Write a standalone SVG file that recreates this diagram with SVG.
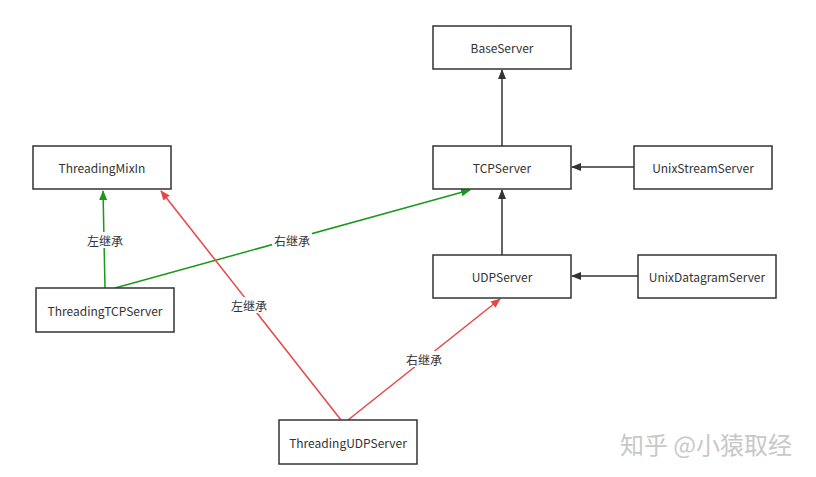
<svg xmlns="http://www.w3.org/2000/svg" width="816" height="477" viewBox="0 0 816 477">
<style>
.box{fill:#fff;stroke:#333;stroke-width:1.5}
.t{font-family:"Noto Sans CJK SC","Liberation Sans",sans-serif;font-size:12px;fill:#333;text-anchor:middle;dominant-baseline:central}
.lbl{font-family:"Noto Sans CJK SC","Liberation Sans",sans-serif;font-size:12px;fill:#333;text-anchor:middle;dominant-baseline:central}
.k{stroke:#333;stroke-width:1.5;fill:none}
.g{stroke:#1a9a1a;stroke-width:1.5;fill:none}
.r{stroke:#e84545;stroke-width:1.5;fill:none}
</style>
<defs>
<marker id="ak" viewBox="0 0 10 10" refX="9" refY="5" markerWidth="10" markerHeight="10" markerUnits="userSpaceOnUse" orient="auto"><path d="M0,1 L10,5 L0,9 Z" fill="#333"/></marker>
<marker id="ag" viewBox="0 0 10 10" refX="9" refY="5" markerWidth="10" markerHeight="10" markerUnits="userSpaceOnUse" orient="auto"><path d="M0,1 L10,5 L0,9 Z" fill="#1a9a1a"/></marker>
<marker id="ar" viewBox="0 0 10 10" refX="9" refY="5" markerWidth="10" markerHeight="10" markerUnits="userSpaceOnUse" orient="auto"><path d="M0,1 L10,5 L0,9 Z" fill="#e84545"/></marker>
</defs>
<rect width="816" height="477" fill="#fff"/>
<g id="connectors">
<line class="k" x1="502" y1="146" x2="502" y2="70" marker-end="url(#ak)"/>
<line class="k" x1="502" y1="255" x2="502" y2="190" marker-end="url(#ak)"/>
<line class="k" x1="634" y1="167" x2="572" y2="167" marker-end="url(#ak)"/>
<line class="k" x1="638" y1="276" x2="572" y2="276" marker-end="url(#ak)"/>
<line class="g" x1="105" y1="288" x2="103" y2="191" marker-end="url(#ag)"/>
<line class="g" x1="115" y1="288" x2="470" y2="190" marker-end="url(#ag)"/>
<line class="r" x1="341" y1="420" x2="161" y2="191" marker-end="url(#ar)"/>
<line class="r" x1="348" y1="420" x2="500" y2="299" marker-end="url(#ar)"/>
<rect x="85" y="232" width="40" height="16" fill="#fff"/>
<text class="lbl" x="105" y="240">左继承</text>
<rect x="272" y="232" width="40" height="16" fill="#fff"/>
<text class="lbl" x="292" y="240">右继承</text>
<rect x="229" y="297" width="40" height="16" fill="#fff"/>
<text class="lbl" x="249" y="305">左继承</text>
<rect x="404" y="351" width="40" height="16" fill="#fff"/>
<text class="lbl" x="424" y="359">右继承</text>
</g>
<g id="BaseServer"><rect class="box" x="433" y="26" width="138" height="43"/><text class="t" x="502" y="47.5">BaseServer</text></g>
<g id="TCPServer"><rect class="box" x="433" y="146" width="138" height="43"/><text class="t" x="502" y="167.5">TCPServer</text></g>
<g id="UDPServer"><rect class="box" x="433" y="255" width="138" height="43"/><text class="t" x="502" y="276.5">UDPServer</text></g>
<g id="UnixStreamServer"><rect class="box" x="634" y="146" width="138" height="43"/><text class="t" x="703" y="167.5">UnixStreamServer</text></g>
<g id="UnixDatagramServer"><rect class="box" x="638" y="255" width="138" height="43"/><text class="t" x="707" y="276.5">UnixDatagramServer</text></g>
<g id="ThreadingMixIn"><rect class="box" x="33" y="146" width="138" height="43"/><text class="t" x="102" y="167.5">ThreadingMixIn</text></g>
<g id="ThreadingTCPServer"><rect class="box" x="36" y="288" width="138" height="44"/><text class="t" x="105" y="310">ThreadingTCPServer</text></g>
<g id="ThreadingUDPServer"><rect class="box" x="279" y="420" width="138" height="44"/><text class="t" x="348" y="442">ThreadingUDPServer</text></g>
<text x="706" y="443" font-family="Noto Sans CJK SC,sans-serif" font-size="24" fill="#c8c8c8" text-anchor="middle" dominant-baseline="central">知乎 @小猿取经</text>
</svg>
